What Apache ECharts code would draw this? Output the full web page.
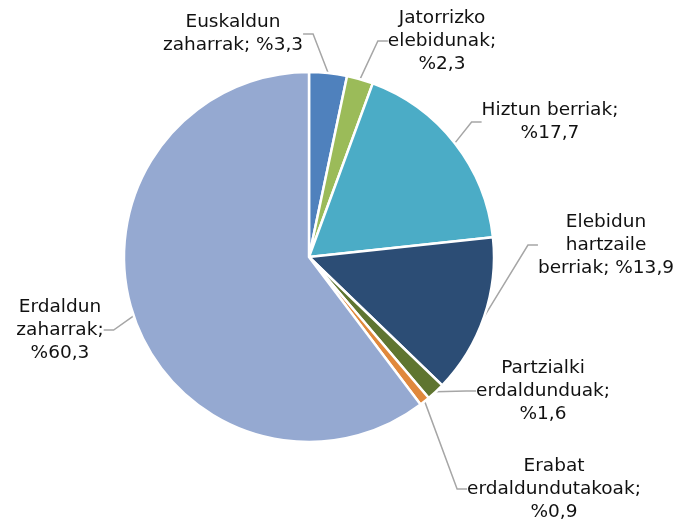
<!DOCTYPE html>
<html>
<head>
<meta charset="utf-8">
<script src="https://cdn.jsdelivr.net/npm/echarts@6/dist/echarts.min.js"></script>
<style>
  html, body { margin: 0; padding: 0; background: #fff; }
  #main { width: 681px; height: 520px; }
</style>
</head>
<body>
<div id="main"></div>
<script>
// datuak
var names = ['Euskaldun zaharrak', 'Jatorrizko elebidunak', 'Hiztun berriak', 'Elebidun hartzaile berriak', 'Partzialki erdaldunduak', 'Erabat erdaldundutakoak', 'Erdaldun zaharrak'];
var values = [3.3, 2.3, 17.7, 13.9, 1.6, 0.9, 60.3];
var labelTexts = [
  'Euskaldun\nzaharrak; %3,3',
  'Jatorrizko\nelebidunak;\n%2,3',
  'Hiztun berriak;\n%17,7',
  'Elebidun\nhartzaile\nberriak; %13,9',
  'Partzialki\nerdaldunduak;\n%1,6',
  'Erabat\nerdaldundutakoak;\n%0,9',
  'Erdaldun\nzaharrak;\n%60,3'
];
var colors = ['#4f81bd', '#9bbb59', '#4bacc6', '#2c4d75', '#5f7530', '#e0883c', '#95a9d1'];
// etiketen kokapena (testu blokearen erdigunea)
var labelPos = [[233, 34], [442, 41], [550, 122], [606, 245], [543, 391], [554, 489], [60, 330]];

var chart = echarts.init(document.getElementById('main'));

var data = [];
for (var i = 0; i < names.length; i++) {
  data.push({
    name: names[i],
    value: values[i],
    itemStyle: { color: colors[i] }
  });
}

var option = {
  animation: false,
  series: [{
    type: 'pie',
    center: [309, 257],
    radius: 185,
    startAngle: 90,
    clockwise: true,
    data: data,
    itemStyle: {
      borderColor: '#fff',
      borderWidth: 2.5
    },
    label: {
      show: true,
      position: 'outside',
      formatter: function (p) { return labelTexts[p.dataIndex]; },
      fontFamily: 'DejaVu Sans',
      fontSize: 18.5,
      lineHeight: 23,
      color: '#111',
      align: 'center'
    },
    labelLine: {
      show: true,
      length: 15,
      length2: 10,
      lineStyle: { color: '#a6a6a6', width: 1.5 }
    },
    labelLayout: function (p) {
      var pos = labelPos[p.dataIndex];
      return {
        x: pos[0],
        y: pos[1],
        align: 'center',
        verticalAlign: 'middle'
      };
    }
  }]
};
chart.setOption(option);
</script>
</body>
</html>
